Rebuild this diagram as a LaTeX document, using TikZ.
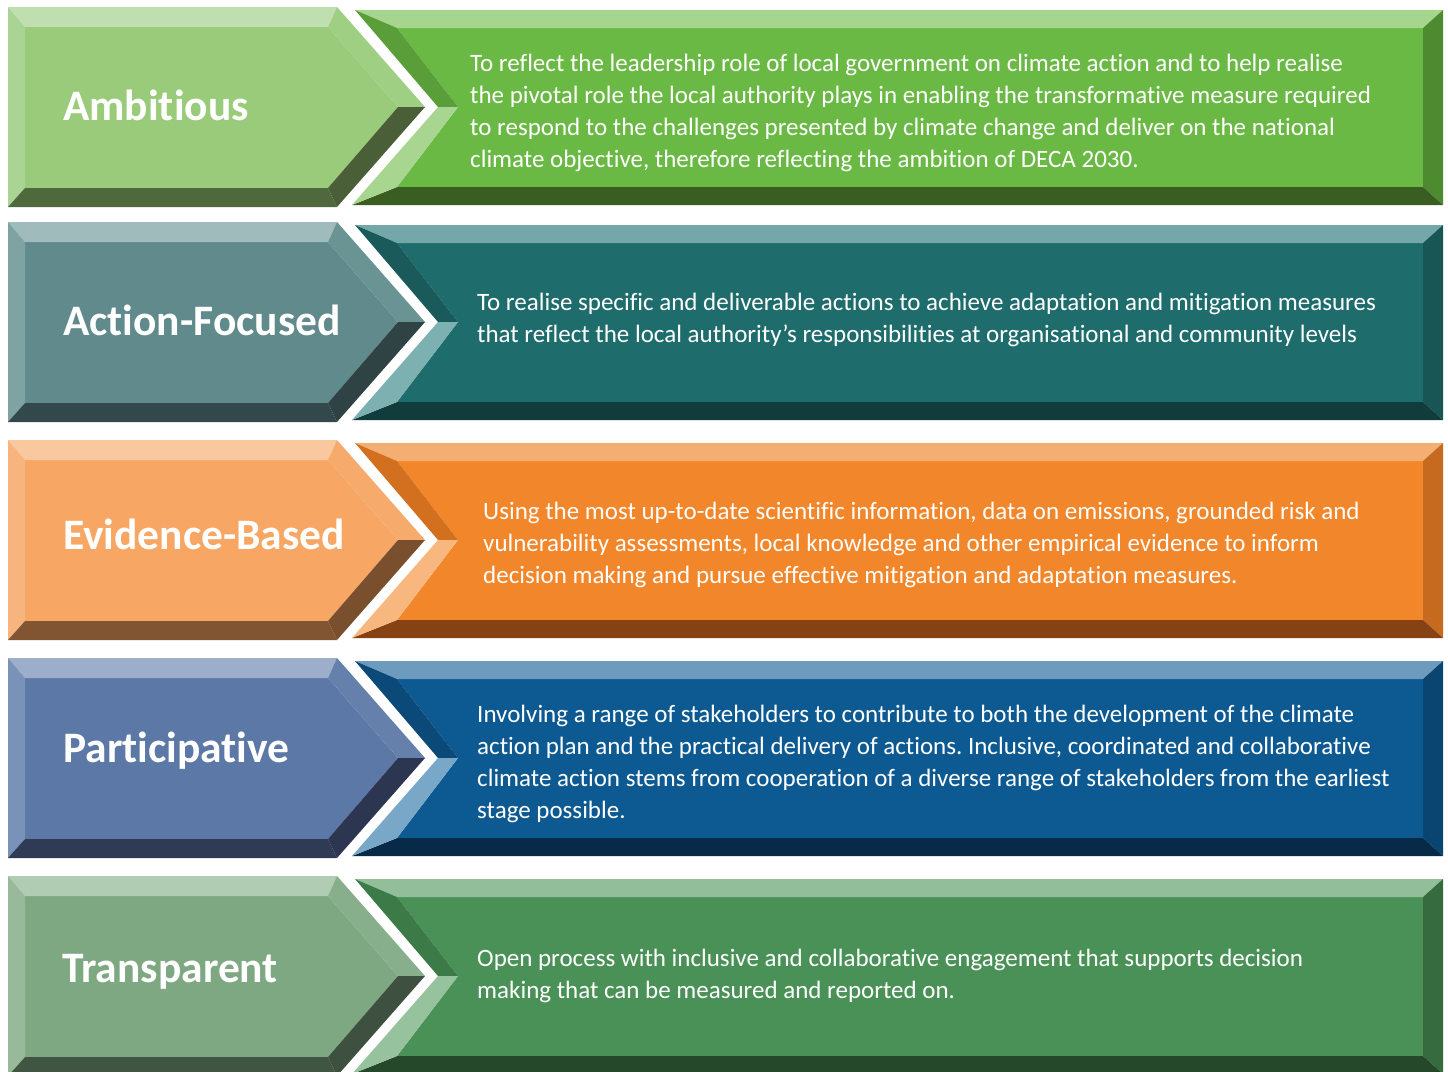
\documentclass[tikz,border=0pt]{standalone}
\usepackage{fontspec}
\setmainfont[Ligatures=NoCommon]{Carlito}
\usetikzlibrary{calc}
\frenchspacing
% row 1 (green)
\definecolor{r1Lm}{HTML}{99CB7B}\definecolor{r1Lt}{HTML}{C0DFB0}\definecolor{r1Ll}{HTML}{A9D493}
\definecolor{r1Lu}{HTML}{9ECF83}\definecolor{r1Ld}{HTML}{4A5E38}\definecolor{r1Lb}{HTML}{4F693C}
\definecolor{r1Rm}{HTML}{6BB945}\definecolor{r1Rt}{HTML}{A6D68E}\definecolor{r1Ru}{HTML}{5A9E3A}
\definecolor{r1Rl}{HTML}{A8D690}\definecolor{r1Rb}{HTML}{3A5E22}\definecolor{r1Rr}{HTML}{4E8A30}
% row 2 (teal)
\definecolor{r2Lm}{HTML}{608A8B}\definecolor{r2Lt}{HTML}{A0BBBC}\definecolor{r2Ll}{HTML}{7FA2A3}
\definecolor{r2Lu}{HTML}{6A9394}\definecolor{r2Ld}{HTML}{2F4344}\definecolor{r2Lb}{HTML}{33484A}
\definecolor{r2Rm}{HTML}{1F6C6C}\definecolor{r2Rt}{HTML}{74A8A8}\definecolor{r2Ru}{HTML}{1A5A5A}
\definecolor{r2Rl}{HTML}{7DB0B0}\definecolor{r2Rb}{HTML}{113C3C}\definecolor{r2Rr}{HTML}{185656}
% row 3 (orange)
\definecolor{r3Lm}{HTML}{F7A663}\definecolor{r3Lt}{HTML}{F9C89E}\definecolor{r3Ll}{HTML}{F8B47E}
\definecolor{r3Lu}{HTML}{F6AB6C}\definecolor{r3Ld}{HTML}{7A4F2E}\definecolor{r3Lb}{HTML}{815531}
\definecolor{r3Rm}{HTML}{F2862A}\definecolor{r3Rt}{HTML}{F5AE72}\definecolor{r3Ru}{HTML}{D27020}
\definecolor{r3Rl}{HTML}{F7B77F}\definecolor{r3Rb}{HTML}{864212}\definecolor{r3Rr}{HTML}{C56A1E}
% row 4 (blue)
\definecolor{r4Lm}{HTML}{5B78A6}\definecolor{r4Lt}{HTML}{9DAECB}\definecolor{r4Ll}{HTML}{7A91B8}
\definecolor{r4Lu}{HTML}{6580AB}\definecolor{r4Ld}{HTML}{2C3650}\definecolor{r4Lb}{HTML}{2F3A55}
\definecolor{r4Rm}{HTML}{0D5991}\definecolor{r4Rt}{HTML}{6C9BBD}\definecolor{r4Ru}{HTML}{0B4A78}
\definecolor{r4Rl}{HTML}{79A7C8}\definecolor{r4Rb}{HTML}{062A47}\definecolor{r4Rr}{HTML}{0A4572}
% row 5 (green)
\definecolor{r5Lm}{HTML}{7EA882}\definecolor{r5Lt}{HTML}{B0CCB2}\definecolor{r5Ll}{HTML}{98BA9B}
\definecolor{r5Lu}{HTML}{88AF8B}\definecolor{r5Ld}{HTML}{3E503F}\definecolor{r5Lb}{HTML}{405542}
\definecolor{r5Rm}{HTML}{4A9157}\definecolor{r5Rt}{HTML}{93BE9A}\definecolor{r5Ru}{HTML}{3C7B47}
\definecolor{r5Rl}{HTML}{97C29E}\definecolor{r5Rb}{HTML}{25482B}\definecolor{r5Rr}{HTML}{356B3F}

\newcommand\bevelrow[2]{%
\begin{scope}[shift={(0,#1)}]
 % left chevron
 \fill[#2Lm] (25,20) -- (328,20) -- (398,100) -- (328,181) -- (25,181) -- cycle;
 \fill[#2Lt] (8,0) -- (337,0) -- (328,20) -- (25,20) -- cycle;
 \fill[#2Ll] (8,0) -- (25,20) -- (25,181) -- (8,200) -- cycle;
 \fill[#2Lu] (337,0) -- (425,100) -- (398,100) -- (328,20) -- cycle;
 \fill[#2Ld] (425,100) -- (337,200) -- (328,181) -- (398,100) -- cycle;
 \fill[#2Lb] (8,200) -- (25,181) -- (328,181) -- (337,200) -- cycle;
 % right notched band
 \fill[#2Rm] (397,21) -- (1423,21) -- (1423,180) -- (397,180) -- (458,100) -- cycle;
 \fill[#2Rt] (355,3) -- (1443,3) -- (1423,21) -- (397,21) -- cycle;
 \fill[#2Rr] (1443,3) -- (1443,198) -- (1423,180) -- (1423,21) -- cycle;
 \fill[#2Rb] (352,198) -- (397,180) -- (1423,180) -- (1443,198) -- cycle;
 \fill[#2Ru] (355,3) -- (397,21) -- (458,100) -- (438,100) -- cycle;
 \fill[#2Rl] (438,100) -- (458,100) -- (397,180) -- (352,198) -- cycle;
\end{scope}}

\tikzset{
  titletext/.style={anchor=base west, inner sep=0pt, text=white,
    font=\fontsize{43.5}{50}\selectfont\bfseries},
  bodytext/.style={anchor=north west, inner sep=0pt, text=white, align=left,
    font=\fontsize{25}{32}\selectfont}
}

\begin{document}
\begin{tikzpicture}[x=1pt,y=-1pt]
\clip (0,0) rectangle (1448,1071);
\fill[white] (0,0) rectangle (1448,1071);

\bevelrow{7}{r1}
\bevelrow{222}{r2}
\bevelrow{440}{r3}
\bevelrow{658}{r4}
\bevelrow{876}{r5}

\node[titletext] (t1) at (63,120) {Ambitious};
\node[titletext] (t2) at (63,335) {Action-Focused};
\node[titletext] (t3) at (63,549) {Evidence-Based};
\node[titletext] (t4) at (63,762) {Participative};
\node[titletext] (t5) at (62,982) {Transparent};

\node[bodytext] (d1) at (470,48.6) {\strut To reflect the leadership role of local government on climate action and to help realise\\
the pivotal role the local authority plays in enabling the transformative measure required\\
to respond to the challenges presented by climate change and deliver on the national\\
climate objective, therefore reflecting the ambition of DECA 2030.};

\node[bodytext] (d2) at (477,287.6) {\strut To realise specific and deliverable actions to achieve adaptation and mitigation measures\\
that reflect the local authority’s responsibilities at organisational and community levels};

\node[bodytext] (d3) at (483,496.6) {\strut Using the most up-to-date scientific information, data on emissions, grounded risk and\\
vulnerability assessments, local knowledge and other empirical evidence to inform\\
decision making and pursue effective mitigation and adaptation measures.};

\node[bodytext] (d4) at (477,699.6) {\strut Involving a range of stakeholders to contribute to both the development of the climate\\
action plan and the practical delivery of actions. Inclusive, coordinated and collaborative\\
climate action stems from cooperation of a diverse range of stakeholders from the earliest\\
stage possible.};

\node[bodytext] (d5) at (477,943.6) {\strut Open process with inclusive and collaborative engagement that supports decision\\
making that can be measured and reported on.};
\end{tikzpicture}
\end{document}
